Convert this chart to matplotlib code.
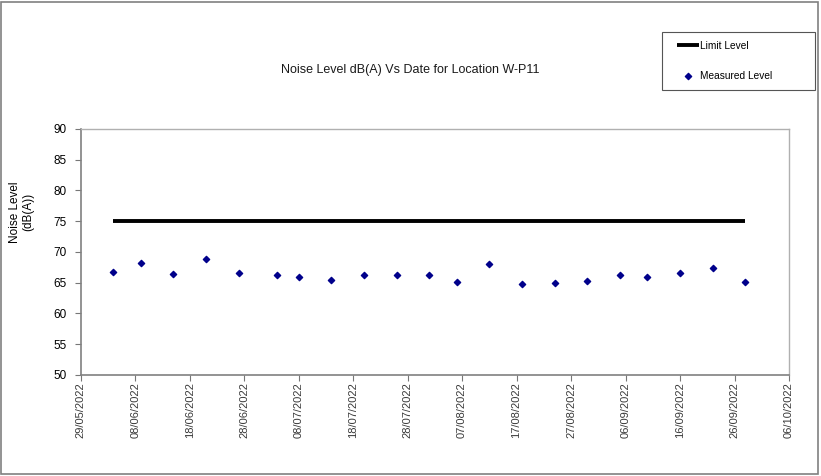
import matplotlib
matplotlib.use("Agg")
import matplotlib.pyplot as plt
from matplotlib.patches import Rectangle
import datetime as dt

dates = ["04/06/2022", "09/06/2022", "15/06/2022", "21/06/2022", "27/06/2022",
         "04/07/2022", "08/07/2022", "14/07/2022", "20/07/2022", "26/07/2022",
         "01/08/2022", "06/08/2022", "12/08/2022", "18/08/2022", "24/08/2022",
         "30/08/2022", "05/09/2022", "10/09/2022", "16/09/2022", "22/09/2022",
         "28/09/2022"]
measured = [66.8, 68.2, 66.4, 68.9, 66.6, 66.3, 66.0, 65.4, 66.3, 66.2,
            66.3, 65.2, 68.1, 64.8, 64.9, 65.3, 66.2, 65.9, 66.6, 67.4, 65.2]
limit = [75.0] * len(dates)
tick_labels = ["29/05/2022", "08/06/2022", "18/06/2022", "28/06/2022", "08/07/2022",
               "18/07/2022", "28/07/2022", "07/08/2022", "17/08/2022", "27/08/2022",
               "06/09/2022", "16/09/2022", "26/09/2022", "06/10/2022"]

x = [dt.datetime.strptime(d, "%d/%m/%Y") for d in dates]
ticks = [dt.datetime.strptime(d, "%d/%m/%Y") for d in tick_labels]

plt.rcParams['font.family'] = ['Liberation Sans', 'DejaVu Sans']

fig = plt.figure(figsize=(8.21, 4.76), dpi=100)
ax = fig.add_axes([80.7/821, 1 - 375/476, (789 - 80.7)/821, (375 - 129)/476])

ax.plot(x, limit, color='black', lw=2.8, solid_capstyle='butt', label='Limit Level', zorder=2)
ax.scatter(x, measured, marker='D', s=10, color='#00008B', label='Measured Level', zorder=3)

ax.set_xlim(ticks[0], ticks[-1])
ax.set_ylim(50, 90)
ax.set_yticks(range(50, 91, 5))
ax.set_xticks(ticks)
ax.set_xticklabels(tick_labels, rotation=90, fontsize=8,
                   family=['Liberation Sans Narrow', 'Liberation Sans', 'DejaVu Sans'],
                   color='#3a3a3a')
ax.tick_params(axis='y', labelsize=8.5, length=4, color='#777777', pad=6)
ax.tick_params(axis='x', length=4, color='#777777', pad=1)

for s in ['left', 'bottom']:
    ax.spines[s].set_color('#808080')
    ax.spines[s].set_linewidth(1.2)
for s in ['top', 'right']:
    ax.spines[s].set_color('#b0b0b0')
    ax.spines[s].set_linewidth(1.0)

fig.text(410/821, 1 - 70/476, "Noise Level dB(A) Vs Date for Location W-P11",
         ha='center', va='center', fontsize=9, color='#1a1a1a')
fig.text(22/821, 1 - 212/476, "Noise Level\n(dB(A))", rotation=90,
         ha='center', va='center', fontsize=8.5, linespacing=1.15)

leg = fig.legend(loc='upper left', bbox_to_anchor=(677/821, 1 - 41/476),
                 frameon=False, fontsize=7.3,
                 handlelength=2.2, labelspacing=1.95, borderpad=0, handletextpad=0.1,
                 borderaxespad=0)

fig.patches.append(Rectangle((662/821, 1 - 90/476), 153/821, 58/476, transform=fig.transFigure,
                             fill=False, edgecolor='#555555', lw=0.8))
fig.patches.append(Rectangle((1/821, 2/476), 817/821, 472/476, transform=fig.transFigure,
                             fill=False, edgecolor='#808080', lw=1.2))

fig.savefig("out.png", dpi=100)
